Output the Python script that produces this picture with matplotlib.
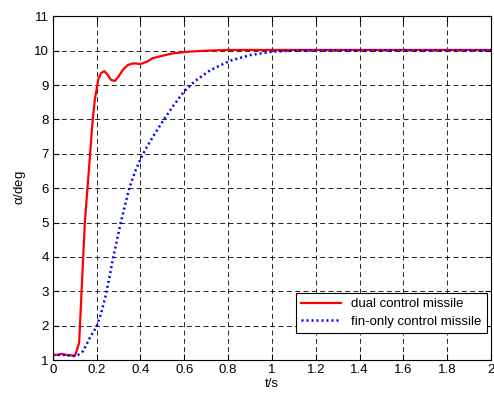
import matplotlib
matplotlib.use("Agg")
import matplotlib.pyplot as plt

plt.rcParams['font.family'] = ['Liberation Sans', 'DejaVu Sans']
plt.rcParams['mathtext.fontset'] = 'custom'
plt.rcParams['mathtext.rm'] = 'Liberation Sans'
plt.rcParams['mathtext.it'] = 'Liberation Sans'

# dual control missile (red)
t_dual = [0, 0.02, 0.04, 0.06, 0.08, 0.1, 0.105, 0.12, 0.131, 0.146, 0.158, 0.17,
          0.182, 0.192, 0.207, 0.22, 0.235, 0.25, 0.265, 0.283, 0.3, 0.32, 0.342,
          0.36, 0.373, 0.4, 0.43, 0.455, 0.5, 0.545, 0.62, 0.7, 0.8, 1.0, 1.5, 2.0]
a_dual = [1.15, 1.15, 1.18, 1.15, 1.14, 1.12, 1.2, 1.5, 3.0, 5.0, 6.0, 7.0,
          8.0, 8.6, 9.15, 9.35, 9.4, 9.3, 9.15, 9.12, 9.25, 9.45, 9.58,
          9.62, 9.63, 9.61, 9.68, 9.78, 9.85, 9.92, 9.97, 10.0, 10.02, 10.02, 10.02, 10.02]

# fin-only control missile (blue)
t_fin = [0, 0.05, 0.092, 0.115, 0.138, 0.169, 0.2, 0.22, 0.24, 0.258, 0.276, 0.293,
         0.31, 0.33, 0.349, 0.375, 0.4, 0.425, 0.462, 0.505, 0.55, 0.6, 0.65,
         0.718, 0.81, 0.9, 1.0, 1.1, 1.5, 2.0]
a_fin = [1.15, 1.15, 1.12, 1.15, 1.26, 1.65, 1.98, 2.35, 2.85, 3.4, 4.0, 4.5,
         5.0, 5.52, 6.0, 6.48, 6.85, 7.15, 7.55, 7.98, 8.4, 8.82, 9.12,
         9.43, 9.71, 9.87, 9.97, 10.0, 10.01, 10.01]

xticks = [0, 0.2, 0.4, 0.6, 0.8, 1, 1.2, 1.4, 1.6, 1.8, 2]
xtick_labels = ['0', '0.2', '0.4', '0.6', '0.8', '1', '1.2', '1.4', '1.6', '1.8', '2']
yticks = list(range(1, 12))

fig = plt.figure(figsize=(4.94, 3.97), dpi=100)
ax = fig.add_axes([0.107, 0.093, 0.887, 0.866])

ax.plot(t_dual, a_dual, color='#ff0000', lw=1.6, label='dual control missile')
ax.plot(t_fin, a_fin, color='#0000ff', lw=1.8, ls=(0, (0.8, 1.2)), label='fin-only control missile')

ax.set_xlim(0, 2)
ax.set_ylim(1, 11)
ax.set_xticks(xticks, labels=xtick_labels)
ax.set_yticks(yticks)
ax.tick_params(direction='in', top=True, right=True, labelsize=9.5, length=4, pad=3)
ax.grid(True, color='black', ls=(0, (6, 4)), lw=0.6)
for s in ax.spines.values():
    s.set_linewidth(0.8)

ax.set_xlabel('t/s', fontsize=9.5, labelpad=1)
ax.set_ylabel(r'$\alpha$/deg', fontsize=9.5, labelpad=4)

leg = ax.legend(loc='lower right', bbox_to_anchor=(0.991, 0.079), fontsize=9.5,
                fancybox=False, framealpha=1, edgecolor='black',
                handlelength=3, borderaxespad=0, borderpad=0.4, labelspacing=0.4)
leg.get_frame().set_linewidth(0.8)

fig.savefig('out.png', dpi=100)
